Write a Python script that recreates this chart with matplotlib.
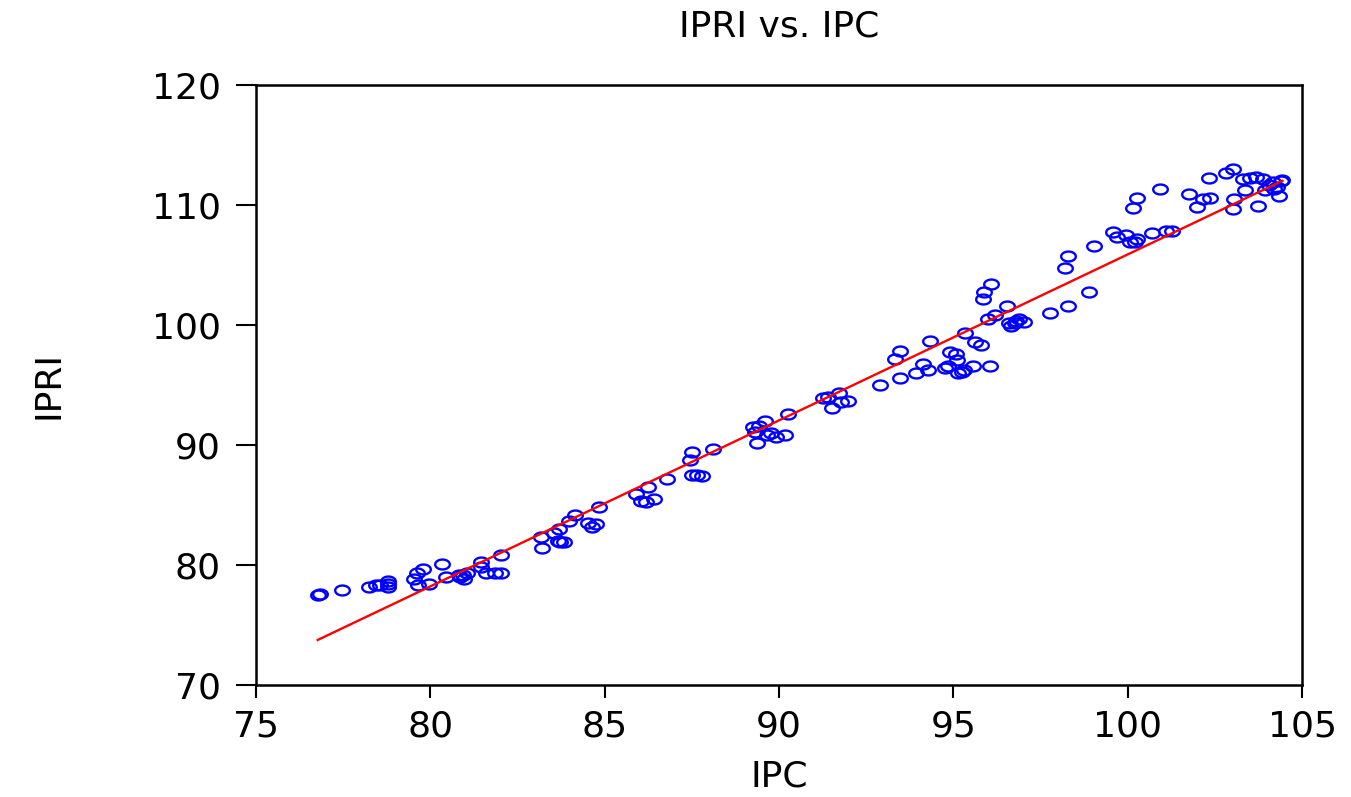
import numpy as np
import matplotlib
matplotlib.use("Agg")
import matplotlib.pyplot as plt
from matplotlib.path import Path

# ---- data ----
ipc = [76.77, 76.84, 77.47, 78.25, 78.44, 78.56, 78.78, 78.78, 78.78, 79.54,
       79.61, 79.80, 79.66, 79.95, 80.33, 80.45, 80.81, 80.93, 81.04, 80.97,
       80.85, 81.46, 81.44, 81.60, 81.86, 82.03, 82.03, 83.16, 83.20, 83.54,
       83.68, 83.72, 83.84, 83.65, 83.97, 84.16, 84.51, 84.65, 84.75, 84.83,
       85.90, 86.25, 86.05, 86.18, 86.41, 86.80, 87.45, 87.50, 87.50, 87.64,
       87.80, 88.11, 89.26, 89.42, 89.60, 89.36, 89.32, 89.65, 89.78, 89.91,
       90.18, 90.27, 91.25, 91.40, 91.71, 91.52, 91.79, 91.98, 92.90, 93.33,
       93.47, 93.47, 93.94, 94.12, 94.28, 94.33, 94.90, 95.09, 95.11, 94.76,
       94.86, 95.14, 95.24, 95.31, 95.57, 96.05, 95.33, 95.62, 95.78, 95.86,
       95.89, 96.07, 95.98, 96.19, 96.55, 96.59, 96.66, 96.81, 96.89, 97.03,
       96.77, 97.77, 98.30, 98.90, 98.20, 98.30, 99.03, 99.57, 99.68, 99.95,
       100.07, 100.21, 100.27, 100.14, 100.26, 100.71, 100.93, 101.11, 101.26, 101.75,
       102.00, 102.15, 102.36, 102.34, 102.82, 103.01, 103.01, 103.05, 103.30, 103.50,
       103.68, 103.89, 103.37, 103.74, 103.93, 104.06, 104.17, 104.27, 104.39, 104.44,
       104.19, 104.33]
ipri = [77.50, 77.55, 77.94, 78.20, 78.30, 78.36, 78.67, 78.40, 78.14, 78.80,
        79.30, 79.64, 78.36, 78.40, 80.08, 79.03, 79.20, 79.20, 79.36, 78.86,
        78.98, 80.25, 79.80, 79.33, 79.36, 79.30, 80.86, 82.30, 81.40, 82.64,
        82.97, 81.94, 81.94, 81.97, 83.70, 84.20, 83.52, 83.20, 83.40, 84.80,
        85.92, 86.53, 85.30, 85.25, 85.47, 87.20, 88.75, 89.44, 87.53, 87.47,
        87.44, 89.67, 91.50, 91.56, 92.03, 90.20, 91.06, 90.80, 90.97, 90.70,
        90.80, 92.58, 93.90, 94.03, 94.30, 93.10, 93.56, 93.70, 95.00, 97.20,
        97.86, 95.56, 95.97, 96.72, 96.22, 98.70, 97.78, 97.58, 97.08, 96.44,
        96.61, 95.97, 96.08, 96.27, 96.61, 96.61, 99.30, 98.60, 98.33, 102.14,
        102.72, 103.42, 100.50, 100.80, 101.60, 100.14, 99.92, 100.33, 100.50, 100.25,
        100.14, 101.00, 101.56, 102.72, 104.75, 105.75, 106.60, 107.78, 107.30, 107.53,
        106.92, 106.94, 107.14, 109.75, 110.58, 107.70, 111.33, 107.83, 107.86, 110.92,
        109.80, 110.47, 110.56, 112.25, 112.70, 112.97, 109.70, 110.50, 112.20, 112.28,
        112.36, 112.17, 111.25, 109.94, 111.25, 111.70, 111.92, 111.53, 112.03, 112.08,
        111.30, 110.78]

# regression line
fit_slope = 1.383
fit_intercept = -32.42

x_ticks = [75, 80, 85, 90, 95, 100, 105]
y_ticks = [70, 80, 90, 100, 110, 120]

title_text = "IPRI vs. IPC"
x_label = "IPC"
y_label = "IPRI"

# ---- figure ----
plt.rcParams['font.family'] = ['DejaVu Sans']
FS = 26
fig = plt.figure(figsize=(13.51, 7.97), dpi=100)
ax = fig.add_axes([256/1351, 1 - 685/797, (1302-256)/1351, (685-85)/797])

# ellipse marker (wider than tall, like the reference)
t = np.linspace(0, 2*np.pi, 60)
ell = Path(np.column_stack([0.5*np.cos(t), 0.34*np.sin(t)]), closed=True)

ax.plot(ipc, ipri, linestyle='none', marker=ell, markersize=10.5,
        markerfacecolor='none', markeredgecolor='#0000ff', markeredgewidth=1.7)

fx = np.array([min(ipc), max(ipc)])
ax.plot(fx, fit_intercept + fit_slope*fx, color='#ff0000', linewidth=1.7)

ax.set_xlim(75, 105)
ax.set_ylim(70, 120)
ax.set_xticks(x_ticks)
ax.set_yticks(y_ticks)
ax.tick_params(axis='x', direction='out', length=9.5, width=1.5, pad=8, labelsize=FS)
ax.tick_params(axis='y', direction='out', length=14.5, width=1.5, pad=11, labelsize=FS)
for s in ax.spines.values():
    s.set_linewidth(1.8)

ax.set_title(title_text, fontsize=FS, pad=35)
ax.set_xlabel(x_label, fontsize=FS, labelpad=12)
ax.set_ylabel(y_label, fontsize=FS, labelpad=62)

fig.savefig("out.png", dpi=100)
